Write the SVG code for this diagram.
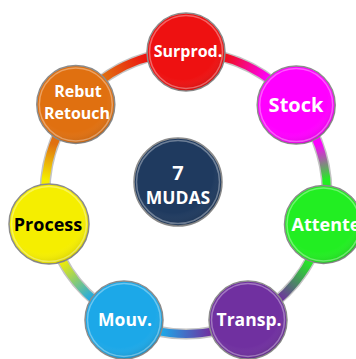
<svg xmlns="http://www.w3.org/2000/svg" width="356" height="359" viewBox="0 0 356 359">
<style>
.rim{fill:none;stroke:#7a7a7a;stroke-width:11;stroke-opacity:0.45}
.tube{fill:none;stroke-width:8}
.node{stroke:#8c8c8c;stroke-width:1.5}
.gloss{fill:none;stroke:#ffffff;stroke-opacity:0.35;stroke-width:1.5}
.lbl{font-family:"Open Sans","Liberation Sans",sans-serif;font-weight:bold;text-anchor:middle;fill:#ffffff}
.dark{fill:#000000}
</style>
<defs>
<linearGradient id="g01" gradientUnits="userSpaceOnUse" x1="186" y1="52" x2="296.2" y2="105.1"><stop offset="0.3" stop-color="#ee1111"/><stop offset="0.7" stop-color="#ff00ff"/></linearGradient>
<linearGradient id="g12" gradientUnits="userSpaceOnUse" x1="296.2" y1="105.1" x2="323.5" y2="224.4"><stop offset="0.35" stop-color="#ff00ff"/><stop offset="0.65" stop-color="#22ee22"/></linearGradient>
<linearGradient id="g23" gradientUnits="userSpaceOnUse" x1="323.5" y1="224.4" x2="247.2" y2="320"><stop offset="0.3" stop-color="#22ee22"/><stop offset="0.7" stop-color="#7030a0"/></linearGradient>
<linearGradient id="g34" gradientUnits="userSpaceOnUse" x1="247.2" y1="320" x2="124.8" y2="320"><stop offset="0.3" stop-color="#7030a0"/><stop offset="0.7" stop-color="#1ca8e8"/></linearGradient>
<linearGradient id="g45" gradientUnits="userSpaceOnUse" x1="124.8" y1="320" x2="48.5" y2="224.4"><stop offset="0.3" stop-color="#1ca8e8"/><stop offset="0.7" stop-color="#f5ee00"/></linearGradient>
<linearGradient id="g56" gradientUnits="userSpaceOnUse" x1="48.5" y1="224.4" x2="75.8" y2="105.1"><stop offset="0.35" stop-color="#f5ee00"/><stop offset="0.65" stop-color="#e07010"/></linearGradient>
<linearGradient id="g60" gradientUnits="userSpaceOnUse" x1="75.8" y1="105.1" x2="186" y2="52"><stop offset="0.3" stop-color="#e07010"/><stop offset="0.7" stop-color="#ee1111"/></linearGradient>
<radialGradient id="shade" cx="0.45" cy="0.4" r="0.6"><stop offset="0.75" stop-color="#ffffff" stop-opacity="0"/><stop offset="1" stop-color="#000000" stop-opacity="0.12"/></radialGradient>
</defs>
<g id="connectors">
<circle class="rim" cx="186" cy="193" r="141"/>
<path class="tube" stroke="url(#g01)" d="M186 52 A141 141 0 0 1 296.2 105.1"/>
<path class="tube" stroke="url(#g12)" d="M296.2 105.1 A141 141 0 0 1 323.5 224.4"/>
<path class="tube" stroke="url(#g23)" d="M323.5 224.4 A141 141 0 0 1 247.2 320"/>
<path class="tube" stroke="url(#g34)" d="M247.2 320 A141 141 0 0 1 124.8 320"/>
<path class="tube" stroke="url(#g45)" d="M124.8 320 A141 141 0 0 1 48.5 224.4"/>
<path class="tube" stroke="url(#g56)" d="M48.5 224.4 A141 141 0 0 1 75.8 105.1"/>
<path class="tube" stroke="url(#g60)" d="M75.8 105.1 A141 141 0 0 1 186 52"/>
</g>
<g id="center">
<circle class="node" cx="178" cy="182" r="44" fill="#1f3a5f"/>
<circle cx="178" cy="182" r="44" fill="url(#shade)"/>
<circle class="gloss" cx="178" cy="182" r="41.5"/>
<text class="lbl" x="178" y="180" style="font-size:20px">7</text>
<text class="lbl" x="178" y="204" style="font-size:17.5px">MUDAS</text>
</g>
<g id="surprod">
<circle class="node" cx="186" cy="52" r="39" fill="#ee1111"/>
<circle cx="186" cy="52" r="39" fill="url(#shade)"/>
<circle class="gloss" cx="186" cy="52" r="36.5"/>
<text class="lbl" x="188" y="57" style="font-size:16px">Surprod.</text>
</g>
<g id="stock">
<circle class="node" cx="296.2" cy="105.1" r="39" fill="#ff00ff"/>
<circle cx="296.2" cy="105.1" r="39" fill="url(#shade)"/>
<circle class="gloss" cx="296.2" cy="105.1" r="36.5"/>
<text class="lbl" x="296" y="112" style="font-size:20px">Stock</text>
</g>
<g id="attente">
<circle class="node" cx="323.5" cy="224.4" r="39" fill="#22ee22"/>
<circle cx="323.5" cy="224.4" r="39" fill="url(#shade)"/>
<circle class="gloss" cx="323.5" cy="224.4" r="36.5"/>
<text class="lbl" x="326" y="231" style="font-size:18px">Attente</text>
</g>
<g id="transp">
<circle class="node" cx="248" cy="320" r="39" fill="#7030a0"/>
<circle cx="248" cy="320" r="39" fill="url(#shade)"/>
<circle class="gloss" cx="248" cy="320" r="36.5"/>
<text class="lbl" x="249" y="326" style="font-size:17.5px">Transp.</text>
</g>
<g id="mouv">
<circle class="node" cx="124" cy="320" r="39" fill="#1ca8e8"/>
<circle cx="124" cy="320" r="39" fill="url(#shade)"/>
<circle class="gloss" cx="124" cy="320" r="36.5"/>
<text class="lbl" x="125" y="326" style="font-size:17.5px">Mouv.</text>
</g>
<g id="process">
<circle class="node" cx="49" cy="224" r="40" fill="#f5ee00"/>
<circle cx="49" cy="224" r="40" fill="url(#shade)"/>
<circle class="gloss" cx="49" cy="224" r="37.5"/>
<text class="lbl dark" x="48" y="231" style="font-size:18px">Process</text>
</g>
<g id="rebut">
<circle class="node" cx="75.8" cy="104.5" r="39" fill="#e07010"/>
<circle cx="75.8" cy="104.5" r="39" fill="url(#shade)"/>
<circle class="gloss" cx="75.8" cy="104.5" r="36.5"/>
<text class="lbl" x="78" y="97" style="font-size:16px">Rebut</text>
<text class="lbl" x="77" y="119" style="font-size:16px">Retouch</text>
</g>
</svg>
